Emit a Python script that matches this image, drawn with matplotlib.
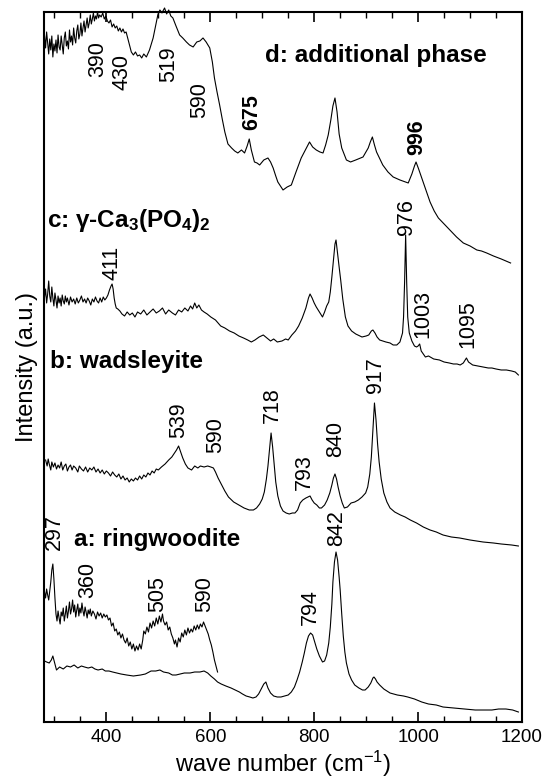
import matplotlib
matplotlib.use('Agg')
import matplotlib.pyplot as plt
from matplotlib.ticker import MultipleLocator

plt.rcParams['font.family'] = 'Liberation Sans'
plt.rcParams['mathtext.fontset'] = 'custom'
plt.rcParams['mathtext.rm'] = 'Liberation Sans'
plt.rcParams['mathtext.bf'] = 'Liberation Sans:bold'
plt.rcParams['mathtext.it'] = 'Liberation Sans:italic'

# d: additional phase
d_wn = [281, 283, 285, 287, 289, 291, 293, 295, 297, 299, 301, 303, 305, 307, 309, 311, 313, 315, 317, 319,
        321, 323, 325, 327, 329, 331, 333, 335, 337, 339, 341, 343, 345, 347, 349, 351, 353, 355, 357, 359,
        361, 363, 365, 367, 369, 371, 373, 375, 377, 379, 381, 383, 385, 387, 390, 393, 396, 399, 402, 405,
        408, 411, 414, 417, 420, 423, 426, 429, 432, 435, 438, 443, 448, 452, 456, 460, 464, 468, 472, 477,
        483, 490, 495, 499, 503, 507, 512, 516, 520, 524, 528, 534, 541, 547, 554, 560, 567, 574, 580, 586,
        592, 599, 604, 608, 613, 618, 623, 628, 634, 641, 647, 653, 660, 666, 671, 675, 679, 685, 690, 695,
        703, 711, 716, 721, 726, 730, 740, 748, 756, 765, 775, 784, 791, 797, 804, 811, 817, 822, 827, 832,
        836, 840, 844, 848, 853, 862, 870, 880, 894, 904, 908, 912, 916, 920, 932, 942, 952, 965, 981, 988,
        993, 996, 1001, 1007, 1015, 1023, 1031, 1039, 1050, 1061, 1074, 1087, 1100, 1113, 1122, 1132, 1145, 1160, 1178]
d_int = [686, 674, 690, 679, 668, 683, 672, 686, 665, 678, 671, 682, 669, 687, 675, 672, 686, 677, 668, 684,
         690, 676, 681, 673, 692, 680, 686, 677, 694, 684, 679, 691, 697, 683, 688, 699, 686, 694, 701, 690,
         697, 704, 694, 699, 707, 698, 703, 709, 701, 706, 703, 710, 704, 707, 705, 709, 703, 706, 701, 699,
         702, 695, 698, 694, 696, 691, 694, 690, 693, 689, 690, 680, 670, 667, 670, 666, 667, 664, 668, 665,
         672, 684, 697, 707, 712, 709, 714, 708, 712, 706, 704, 696, 687, 684, 680, 677, 675, 680, 681, 684,
         680, 674, 660, 644, 630, 617, 603, 590, 578, 574, 571, 569, 572, 569, 576, 583, 572, 560, 559, 557,
         562, 564, 560, 554, 546, 540, 532, 535, 537, 550, 564, 573, 580, 575, 572, 570, 569, 577, 587, 602,
         616, 624, 610, 588, 574, 562, 560, 562, 565, 574, 580, 585, 577, 570, 557, 550, 545, 542, 539, 548,
         556, 560, 553, 544, 532, 520, 511, 504, 498, 492, 485, 479, 476, 472, 471, 469, 466, 463, 459]

# c: gamma-Ca3(PO4)2
c_wn = [281, 283, 285, 287, 289, 291, 293, 295, 297, 299, 301, 303, 305, 307, 309, 311, 313, 315, 317, 319,
        321, 323, 325, 328, 331, 334, 337, 340, 343, 346, 349, 352, 355, 358, 361, 364, 367, 370, 373, 376,
        379, 382, 385, 388, 391, 394, 397, 400, 403, 406, 409, 411, 413, 415, 417, 419, 422, 426, 430, 435,
        440, 445, 450, 455, 460, 466, 472, 478, 484, 490, 496, 502, 508, 514, 520, 527, 533, 539, 545, 551,
        557, 562, 566, 570, 574, 578, 583, 588, 594, 601, 610, 620, 628, 637, 646, 655, 664, 672, 679, 686,
        694, 702, 709, 716, 722, 729, 738, 745, 750, 757, 764, 770, 777, 784, 789, 792, 796, 800, 804, 810,
        816, 820, 824, 828, 831, 834, 837, 840, 842, 845, 848, 851, 855, 860, 865, 872, 880, 892, 900, 905,
        910, 913, 917, 921, 926, 932, 938, 946, 952, 959, 965, 970, 972, 974, 976, 978, 980, 983, 988, 993,
        997, 1000, 1003, 1006, 1010, 1014, 1020, 1030, 1041, 1050, 1060, 1068, 1075, 1081, 1087, 1093, 1097, 1105, 1115, 1125,
        1135, 1142, 1150, 1160, 1170, 1180, 1187, 1193]
c_int = [425, 433, 419, 428, 441, 426, 420, 435, 424, 416, 429, 422, 414, 426, 419, 424, 416, 427, 421, 418,
         426, 420, 424, 417, 425, 420, 423, 418, 424, 419, 422, 426, 420, 423, 419, 424, 421, 417, 423, 420,
         425, 421, 419, 424, 420, 425, 422, 424, 427, 432, 436, 438, 433, 424, 418, 414, 413, 411, 408, 406,
         410, 407, 409, 405, 410, 408, 412, 407, 410, 413, 409, 411, 414, 408, 412, 409, 407, 412, 410, 414,
         411, 416, 413, 419, 414, 417, 412, 410, 408, 405, 402, 396, 394, 391, 389, 386, 384, 382, 380, 382,
         385, 387, 384, 381, 383, 380, 381, 383, 382, 387, 391, 396, 404, 414, 424, 428, 424, 419, 415, 410,
         405, 410, 416, 420, 430, 445, 462, 478, 482, 468, 455, 442, 423, 405, 396, 391, 388, 385, 386, 387,
         391, 392, 389, 385, 382, 381, 380, 379, 377, 377, 380, 389, 405, 440, 487, 440, 405, 389, 381, 376,
         375, 376, 378, 371, 368, 365, 366, 363, 362, 360, 359, 358, 358, 357, 359, 364, 360, 357, 356, 355,
         354, 354, 353, 352, 352, 351, 350, 347]

# b: wadsleyite
b_wn = [283, 286, 288, 290, 293, 295, 298, 301, 304, 307, 310, 313, 316, 319, 322, 325, 328, 331, 334, 337,
        341, 345, 348, 352, 356, 360, 364, 368, 372, 376, 380, 384, 388, 392, 396, 400, 404, 408, 412, 416,
        420, 424, 428, 432, 436, 440, 444, 448, 452, 456, 460, 464, 468, 472, 476, 480, 484, 488, 492, 496,
        500, 506, 513, 520, 526, 531, 535, 539, 543, 547, 552, 557, 564, 570, 576, 581, 588, 595, 601, 606,
        610, 615, 621, 628, 635, 645, 655, 665, 675, 683, 689, 695, 700, 704, 708, 711, 714, 717, 720, 723,
        726, 730, 735, 740, 746, 752, 758, 763, 768, 773, 778, 784, 788, 792, 796, 800, 805, 810, 814, 820,
        825, 830, 834, 837, 840, 843, 846, 850, 854, 858, 864, 871, 878, 885, 892, 899, 903, 907, 910, 913,
        916, 919, 922, 925, 929, 934, 940, 946, 955, 966, 975, 985, 997, 1010, 1023, 1035, 1048, 1064, 1080, 1100,
        1125, 1145, 1160, 1180, 1193]
b_int = [262, 256, 263, 258, 252, 260, 255, 259, 253, 257, 254, 260, 252, 256, 258, 251, 255, 257, 252, 256,
         254, 250, 256, 253, 251, 255, 250, 254, 252, 255, 250, 253, 249, 252, 248, 251, 249, 246, 250, 247,
         245, 248, 243, 246, 242, 244, 240, 243, 241, 244, 242, 246, 243, 247, 245, 249, 247, 251, 249, 253,
         252, 255, 258, 262, 265, 269, 272, 276, 270, 264, 258, 254, 252, 256, 254, 256, 255, 256, 255, 254,
         250, 244, 238, 231, 225, 220, 217, 214, 212, 212, 214, 218, 223, 230, 243, 256, 273, 289, 275, 258,
         240, 226, 216, 211, 209, 208, 209, 209, 212, 219, 222, 224, 225, 226, 222, 219, 217, 214, 214, 217,
         222, 229, 237, 244, 248, 243, 235, 226, 219, 214, 215, 219, 220, 222, 225, 229, 235, 248, 265, 292,
         319, 302, 278, 260, 243, 229, 220, 214, 210, 207, 205, 202, 199, 195, 192, 190, 187, 185, 184, 182,
         180, 179, 178, 177, 176]

# a: ringwoodite, magnified low-wavenumber part
a2_wn = [281, 283, 285, 287, 289, 291, 293, 295, 297, 299, 301, 303, 305, 307, 309, 311, 313, 315, 317, 319,
         321, 323, 325, 327, 329, 331, 333, 335, 337, 339, 341, 343, 345, 347, 349, 351, 353, 355, 357, 359,
         361, 363, 365, 367, 369, 371, 374, 377, 380, 383, 386, 389, 392, 395, 398, 401, 404, 407, 410, 413,
         416, 419, 422, 425, 428, 431, 434, 437, 440, 443, 446, 449, 452, 455, 458, 461, 464, 467, 470, 472,
         475, 478, 481, 484, 487, 490, 493, 496, 499, 502, 505, 508, 510, 513, 516, 519, 522, 525, 528, 531,
         533, 536, 539, 542, 545, 548, 551, 554, 557, 560, 563, 566, 569, 572, 575, 578, 581, 584, 587, 590,
         593, 596, 599, 602, 605, 608, 611, 614]
a2_int = [130, 124, 133, 127, 122, 131, 140, 152, 158, 143, 124, 108, 101, 111, 104, 98, 110, 106, 114, 101,
          108, 116, 104, 111, 120, 108, 113, 122, 110, 117, 105, 112, 118, 106, 114, 109, 119, 111, 106, 115,
          110, 104, 112, 108, 113, 106, 111, 108, 103, 110, 106, 109, 104, 108, 105, 107, 102, 104, 96, 99,
          91, 93, 87, 90, 84, 88, 82, 79, 84, 76, 80, 73, 78, 71, 76, 72, 78, 73, 82, 91,
          88, 95, 90, 99, 94, 101, 96, 104, 98, 106, 100, 108, 101, 97, 100, 92, 95, 88, 84, 78,
          82, 75, 84, 80, 89, 85, 92, 87, 94, 89, 93, 90, 96, 92, 97, 93, 98, 95, 100, 96,
          92, 88, 82, 77, 70, 62, 56, 50]

# a: ringwoodite, full spectrum
a_wn = [281, 285, 290, 294, 297, 300, 304, 310, 317, 324, 331, 338, 345, 352, 358, 365, 372, 378, 384, 392,
        398, 405, 412, 420, 428, 439, 452, 466, 475, 486, 495, 503, 510, 520, 527, 534, 542, 550, 561, 570,
        580, 588, 595, 601, 608, 614, 621, 630, 640, 648, 656, 662, 669, 676, 682, 688, 693, 698, 703, 707,
        711, 716, 722, 729, 736, 743, 750, 756, 762, 767, 772, 777, 781, 785, 789, 793, 797, 801, 805, 810,
        816, 820, 824, 828, 831, 834, 836, 839, 842, 845, 848, 850, 853, 856, 859, 862, 867, 872, 878, 886,
        893, 898, 904, 909, 913, 915, 918, 921, 926, 934, 946, 960, 972, 980, 993, 1007, 1020, 1035, 1048, 1068,
        1088, 1110, 1130, 1142, 1155, 1169, 1182, 1193]
a_int = [61, 60, 59, 62, 66, 60, 52, 55, 53, 56, 55, 57, 54, 56, 55, 54, 55, 53, 52, 53,
         51, 51, 50, 49, 48, 47, 46, 47, 48, 51, 51, 52, 50, 49, 47, 47, 48, 49, 49, 50,
         50, 51, 49, 46, 43, 40, 38, 36, 34, 32, 30, 28, 26, 25, 24, 25, 28, 33, 38, 40,
         34, 29, 26, 25, 25, 26, 27, 30, 35, 42, 50, 60, 69, 79, 86, 89, 87, 80, 73, 66,
         60, 61, 67, 79, 95, 118, 140, 160, 170, 162, 145, 132, 108, 86, 70, 59, 48, 42, 37, 34,
         32, 32, 35, 39, 44, 45, 43, 40, 37, 33, 29, 27, 26, 25, 23, 20, 18, 17, 15, 14,
         13, 12, 12, 12, 13, 13, 12, 10]

# peak labels: text, position (wave number, intensity of label bottom), bold
peak_text = ['390', '430', '519', '590', '675', '996',
             '411', '976', '1003', '1095',
             '539', '590', '718', '793', '840', '917',
             '297', '360', '505', '590', '794', '842']
peak_x = [384, 431, 520, 580, 679, 997,
          411, 978, 1010, 1096,
          539, 610, 719, 782, 841, 918,
          300, 364, 499, 589, 792, 843]
peak_y = [645, 632, 640, 604, 592, 567,
          442, 487, 384, 374,
          284, 269, 299, 232, 265, 329,
          172, 124, 110, 110, 97, 176]
peak_bold = [False, False, False, False, True, True,
             False, False, False, False,
             False, False, False, False, False, False,
             False, False, False, False, False, False]

phase_text = ['d: additional phase', 'c: γ-Ca$_\\mathbf{3}$(PO$_\\mathbf{4}$)$_\\mathbf{2}$',
              'b: wadsleyite', 'a: ringwoodite']
phase_x = [705, 285, 292, 338]
phase_y = [666, 501, 360, 182]

fig = plt.figure(figsize=(5.51, 7.83), dpi=100)
ax = fig.add_axes([0.0799, 0.0779, 0.8675, 0.9068])

for wn, inten in [(d_wn, d_int), (c_wn, c_int), (b_wn, b_int), (a2_wn, a2_int), (a_wn, a_int)]:
    ax.plot(wn, inten, color='black', lw=0.8, clip_on=False)

for t, x, y, bold in zip(peak_text, peak_x, peak_y, peak_bold):
    ax.text(x, y, t, rotation=90, ha='center', va='bottom', fontsize=15.5,
            fontweight='bold' if bold else 'normal')

for t, x, y in zip(phase_text, phase_x, phase_y):
    ax.text(x, y, t, ha='left', va='center', fontsize=17.5, fontweight='bold')

ax.set_xlim(280, 1200)
ax.set_ylim(0, 710)
ax.xaxis.set_major_locator(MultipleLocator(200))
ax.xaxis.set_minor_locator(MultipleLocator(50))
ax.set_yticks([])
ax.tick_params(axis='x', which='major', direction='in', top=True, length=7, width=1.2,
               labelsize=13.5, pad=5)
ax.tick_params(axis='x', which='minor', direction='in', top=True, length=4, width=1.0)
for s in ax.spines.values():
    s.set_linewidth(1.5)

ax.set_xlabel('wave number (cm$^{-1}$)', fontsize=17, labelpad=2)
ax.set_ylabel('Intensity (a.u.)', fontsize=17, labelpad=4)

fig.savefig('out.png', dpi=100)
